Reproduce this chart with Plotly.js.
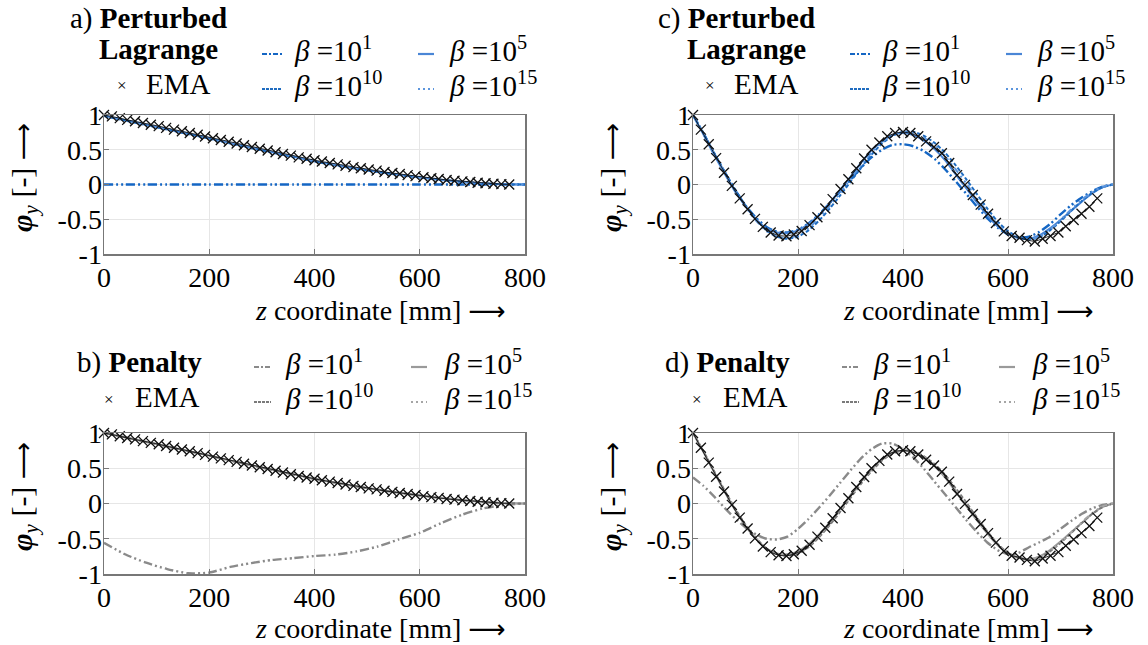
<!DOCTYPE html>
<html><head><meta charset="utf-8">
<script src="https://cdn.plot.ly/plotly-3.0.1.min.js"></script>
<style>html,body{margin:0;padding:0;background:#fff}</style>
</head><body><div id="chart" style="width:1148px;height:645px"></div>
<script>
// ---------- data ----------
var xTicks = [0, 200, 400, 600, 800];
var xTickText = ['0', '200', '400', '600', '800'];
var yTicks = [-1, -0.5, 0, 0.5, 1];
var yTickText = ['-1', '-0.5', '0', '0.5', '1'];
var betaLabels = ['10<sup>1</sup>', '10<sup>5</sup>', '10<sup>10</sup>', '10<sup>15</sup>'];
var emaLabel = 'EMA';

// EMA reference points (markers)
var zEMA = [0,15,30,44,59,74,89,104,118,133,148,163,178,192,207,222,237,252,266,281,296,311,326,340,355,370,385,400,414,429,444,459,474,488,503,518,533,548,562,577,592,607,622,636,651,666,681,696,710,725,740,755,770];
var emaAB = [1.00,0.98,0.955,0.93,0.91,0.885,0.86,0.84,0.815,0.79,0.765,0.74,0.715,0.69,0.665,0.64,0.615,0.59,0.565,0.54,0.515,0.49,0.465,0.44,0.415,0.39,0.37,0.35,0.33,0.31,0.29,0.27,0.25,0.235,0.215,0.20,0.18,0.165,0.15,0.135,0.12,0.105,0.09,0.08,0.065,0.055,0.045,0.035,0.025,0.018,0.01,0.005,0.0];
var emaCD = [1.00,0.79,0.58,0.38,0.17,-0.02,-0.20,-0.355,-0.495,-0.61,-0.69,-0.735,-0.745,-0.72,-0.67,-0.585,-0.47,-0.345,-0.21,-0.065,0.075,0.235,0.375,0.50,0.605,0.695,0.74,0.755,0.74,0.695,0.62,0.54,0.45,0.31,0.135,-0.005,-0.15,-0.29,-0.42,-0.555,-0.675,-0.74,-0.765,-0.80,-0.82,-0.78,-0.74,-0.69,-0.60,-0.51,-0.42,-0.32,-0.20];

// simulation curves, panels a/b
var zAB = [0,40,80,120,160,200,240,280,320,360,400,440,480,520,560,600,640,680,720,760,800];
var a1  = [0,0,0,0,0,0,0,0,0,0,0,0,0,0,0,0,0,0,0,0,0];
var a5  = [0.99,0.925,0.86,0.795,0.73,0.665,0.595,0.528,0.463,0.398,0.336,0.28,0.229,0.183,0.14,0.102,0.068,0.038,0.016,0.003,0];
var a10 = [0.985,0.92,0.855,0.79,0.725,0.66,0.59,0.523,0.458,0.393,0.331,0.275,0.225,0.18,0.137,0.1,0.066,0.037,0.015,0.003,0];
var a15 = [0.995,0.93,0.865,0.8,0.735,0.67,0.6,0.533,0.468,0.403,0.34,0.285,0.234,0.187,0.144,0.105,0.07,0.04,0.017,0.004,0];
var b1  = [-0.557,-0.72,-0.84,-0.93,-0.99,-0.98,-0.90,-0.845,-0.80,-0.775,-0.745,-0.725,-0.68,-0.61,-0.51,-0.415,-0.28,-0.16,-0.07,-0.02,0];
var b5  = [1.0,0.94,0.875,0.81,0.745,0.68,0.61,0.543,0.478,0.413,0.35,0.295,0.243,0.197,0.153,0.115,0.08,0.048,0.023,0.005,0];
var b10 = [1.0,0.938,0.872,0.807,0.742,0.677,0.607,0.54,0.475,0.41,0.348,0.293,0.241,0.195,0.151,0.113,0.078,0.047,0.022,0.005,0];
var b15 = [1.0,0.942,0.877,0.812,0.747,0.682,0.612,0.545,0.48,0.415,0.352,0.297,0.245,0.199,0.155,0.117,0.082,0.05,0.024,0.006,0];

// simulation curves, panels c/d
var zCD = [0,20,40,60,80,100,120,140,160,180,200,220,240,260,280,300,320,340,360,380,400,420,440,460,480,500,520,540,560,580,600,620,640,660,680,700,720,740,760,780,800];
var c1  = [1.00,0.73,0.45,0.18,-0.08,-0.30,-0.48,-0.61,-0.68,-0.69,-0.65,-0.56,-0.43,-0.27,-0.10,0.07,0.24,0.39,0.50,0.57,0.58,0.55,0.48,0.37,0.22,0.05,-0.13,-0.31,-0.48,-0.62,-0.72,-0.76,-0.75,-0.68,-0.57,-0.43,-0.30,-0.19,-0.10,-0.03,0.00];
var c5  = [1.00,0.72,0.43,0.16,-0.10,-0.31,-0.50,-0.63,-0.69,-0.70,-0.66,-0.57,-0.44,-0.27,-0.08,0.11,0.31,0.49,0.62,0.71,0.74,0.71,0.63,0.51,0.35,0.15,-0.05,-0.25,-0.44,-0.60,-0.71,-0.77,-0.78,-0.73,-0.63,-0.51,-0.38,-0.25,-0.13,-0.04,0.00];
var c10 = [1.00,0.74,0.46,0.19,-0.07,-0.30,-0.50,-0.66,-0.75,-0.78,-0.75,-0.66,-0.52,-0.35,-0.16,0.04,0.24,0.43,0.59,0.70,0.76,0.76,0.70,0.60,0.46,0.28,0.08,-0.13,-0.34,-0.53,-0.67,-0.76,-0.79,-0.76,-0.66,-0.53,-0.38,-0.24,-0.12,-0.04,0.00];
var c15 = [1.00,0.73,0.45,0.18,-0.09,-0.32,-0.52,-0.67,-0.75,-0.77,-0.73,-0.63,-0.48,-0.31,-0.12,0.08,0.28,0.46,0.61,0.71,0.75,0.74,0.67,0.56,0.41,0.22,0.02,-0.19,-0.39,-0.57,-0.70,-0.77,-0.79,-0.75,-0.65,-0.51,-0.36,-0.22,-0.11,-0.03,0.00];
var d1  = [0.37,0.25,0.10,-0.06,-0.21,-0.34,-0.44,-0.50,-0.51,-0.47,-0.36,-0.22,-0.06,0.11,0.29,0.47,0.64,0.77,0.85,0.85,0.77,0.65,0.49,0.31,0.13,-0.05,-0.23,-0.40,-0.55,-0.66,-0.72,-0.70,-0.62,-0.55,-0.47,-0.36,-0.25,-0.15,-0.07,-0.02,0.00];
var d5  = [1.00,0.73,0.45,0.17,-0.09,-0.32,-0.50,-0.64,-0.71,-0.72,-0.68,-0.58,-0.44,-0.27,-0.08,0.12,0.31,0.49,0.63,0.72,0.75,0.73,0.65,0.53,0.37,0.17,-0.03,-0.23,-0.42,-0.59,-0.71,-0.77,-0.79,-0.75,-0.66,-0.54,-0.41,-0.28,-0.15,-0.05,0.00];
var d10 = [1.00,0.74,0.46,0.19,-0.07,-0.30,-0.49,-0.64,-0.72,-0.74,-0.71,-0.62,-0.48,-0.31,-0.12,0.08,0.28,0.46,0.61,0.71,0.75,0.74,0.67,0.56,0.41,0.22,0.02,-0.19,-0.39,-0.57,-0.70,-0.77,-0.80,-0.77,-0.68,-0.56,-0.42,-0.28,-0.15,-0.05,0.00];
var d15 = [1.00,0.73,0.45,0.18,-0.08,-0.31,-0.50,-0.65,-0.72,-0.73,-0.69,-0.60,-0.46,-0.29,-0.10,0.10,0.30,0.48,0.62,0.72,0.75,0.73,0.66,0.54,0.39,0.19,-0.01,-0.21,-0.41,-0.58,-0.70,-0.77,-0.79,-0.76,-0.67,-0.55,-0.41,-0.27,-0.14,-0.04,0.00];

// ---------- styles ----------
var W = 1148, H = 645;
var FONT = '"Liberation Serif", "Times New Roman", serif';
var blues = ['#1466C4', '#4A86D6', '#1F6CC0', '#5B95DD'];
var grays = ['#8a8a8a', '#9a9a9a', '#7a7a7a', '#a5a5a5'];
var dashes = ['9px,3px,2px,3px,2px,3px', 'solid', '4px,2px', '2px,4px,2px,4px,6px,4px'];
var widths = [2.4, 2, 2, 2];

function px(x) { return x / W; }
function py(y) { return 1 - y / H; }

var traces = [];
function addPanel(xa, ya, z, series, colors, emaY) {
  for (var i = 0; i < series.length; i++) {
    traces.push({
      type: 'scatter', mode: 'lines', x: z, y: series[i], xaxis: xa, yaxis: ya,
      name: 'β=' + betaLabels[i], showlegend: false, hoverinfo: 'skip',
      line: { color: colors[i], width: widths[i], dash: dashes[i], shape: 'spline', smoothing: 0.6 }
    });
  }
  traces.push({
    type: 'scatter', mode: 'lines', x: zEMA, y: emaY, xaxis: xa, yaxis: ya,
    showlegend: false, hoverinfo: 'skip', line: { color: '#000', width: 0.8 }
  });
  traces.push({
    type: 'scatter', mode: 'markers', x: zEMA, y: emaY, xaxis: xa, yaxis: ya,
    name: emaLabel, showlegend: false, cliponaxis: false, hoverinfo: 'skip',
    marker: { symbol: 'x-thin', size: 10, color: '#000', line: { color: '#111', width: 1.3 } }
  });
}
addPanel('x', 'y', zAB, [a1, a5, a10, a15], blues, emaAB);
addPanel('x2', 'y2', zCD, [c1, c5, c10, c15], blues, emaCD);
addPanel('x3', 'y3', zAB, [b1, b5, b10, b15], grays, emaAB);
addPanel('x4', 'y4', zCD, [d1, d5, d10, d15], grays, emaCD);

var TICKFONT = { family: FONT, size: 28, color: '#000' };
function xAxis(dom, anchor) {
  return {
    domain: dom, anchor: anchor, range: [0, 800], tickvals: xTicks, ticktext: xTickText,
    ticks: 'inside', ticklen: 5, tickcolor: '#777', showline: true, linecolor: '#777', linewidth: 1.5,
    mirror: true, showgrid: true, gridcolor: '#e6e6e6', gridwidth: 1, zeroline: false,
    tickfont: TICKFONT, fixedrange: true, ticklabelstandoff: -2
  };
}
function yAxis(dom, anchor) {
  return {
    domain: dom, anchor: anchor, range: [-1, 1], tickvals: yTicks, ticktext: yTickText,
    ticks: 'inside', ticklen: 5, tickcolor: '#777', showline: true, linecolor: '#777', linewidth: 1.5,
    mirror: true, showgrid: true, gridcolor: '#e6e6e6', gridwidth: 1, zeroline: false,
    tickfont: TICKFONT, fixedrange: true, ticklabelstandoff: -5
  };
}
var xL = [px(104), px(525)], xR = [px(693), px(1113)];
var yT = [py(254), py(115)], yB = [py(574), py(433)];

var annotations = [], shapes = [];
function txt(x, y, t, size, anchor, angle) {
  annotations.push({ xref: 'paper', yref: 'paper', x: px(x), y: py(y), text: t, showarrow: false,
    xanchor: anchor || 'left', yanchor: 'middle', textangle: angle || 0,
    font: { family: FONT, size: size, color: '#000' } });
}
function sample(x0, x1, y, color, dash, w) {
  shapes.push({ type: 'line', xref: 'paper', yref: 'paper', x0: px(x0), x1: px(x1), y0: py(y), y1: py(y),
    line: { color: color, width: w, dash: dash } });
}
var sampleDash = ['5px,2px,2px,2px', 'solid', '3px,1px', '2px,3px'];
var LEG = 29;
function legendBlock(dx, top, head1, head2, colors, cols) {
  txt(cols.head + dx, top, head1, LEG);
  if (head2) txt(cols.head2 + dx, top + 30, head2, LEG);
  var r1 = head2 ? top + 30 : top, r2 = r1 + 35;
  txt(cols.cross + dx, r2 + 2, '×', 17, 'center');
  txt(cols.ema + dx, r2, emaLabel, LEG);
  var rows = [r1, r1, r2, r2];
  var lx = [cols.l1, cols.l2, cols.l1, cols.l2];
  for (var i = 0; i < 4; i++) {
    sample(lx[i][0] + dx, lx[i][1] + dx, rows[i] + 5, colors[i], sampleDash[i], 2.2);
    txt(lx[i][2] + dx, rows[i], '<i>β</i> =' + betaLabels[i], LEG);
  }
}
var colsPL = { head: 68, head2: 97, cross: 122, ema: 144, l1: [262, 282, 292], l2: [418, 434, 447] };
var colsPen = { head: 75, cross: 109, ema: 133, l1: [254, 271, 283], l2: [411, 427, 442] };
legendBlock(0, 19, 'a) <b>Perturbed</b>', '<b>Lagrange</b>', blues, colsPL);
legendBlock(588, 19, 'c) <b>Perturbed</b>', '<b>Lagrange</b>', blues, colsPL);
legendBlock(0, 362, 'b) <b>Penalty</b>', null, grays, colsPen);
legendBlock(588, 362, 'd) <b>Penalty</b>', null, grays, colsPen);

var ARROW = '<span style="font-family:\'DejaVu Sans\';font-size:26px">⟶</span>';
var yTitle = '<b><i>φ</i></b><i><sub>y</sub></i> [-] ' + ARROW;
var xTitle = '<i>z</i> coordinate [mm] ' + ARROW;
txt(24, 178, yTitle, 30, 'center', -90);
txt(613, 178, yTitle, 30, 'center', -90);
txt(24, 497, yTitle, 30, 'center', -90);
txt(613, 497, yTitle, 30, 'center', -90);
txt(508, 310, xTitle, 28, 'right');
txt(1096, 310, xTitle, 28, 'right');
txt(508, 628, xTitle, 28, 'right');
txt(1096, 628, xTitle, 28, 'right');

var layout = {
  width: W, height: H, margin: { l: 0, r: 0, t: 0, b: 0 },
  font: { family: FONT, size: 28, color: '#000' },
  paper_bgcolor: '#fff', plot_bgcolor: '#fff', showlegend: false,
  xaxis: xAxis(xL, 'y'), yaxis: yAxis(yT, 'x'),
  xaxis2: xAxis(xR, 'y2'), yaxis2: yAxis(yT, 'x2'),
  xaxis3: xAxis(xL, 'y3'), yaxis3: yAxis(yB, 'x3'),
  xaxis4: xAxis(xR, 'y4'), yaxis4: yAxis(yB, 'x4'),
  annotations: annotations, shapes: shapes
};
Plotly.newPlot('chart', traces, layout, { displayModeBar: false, staticPlot: true });
</script></body></html>
